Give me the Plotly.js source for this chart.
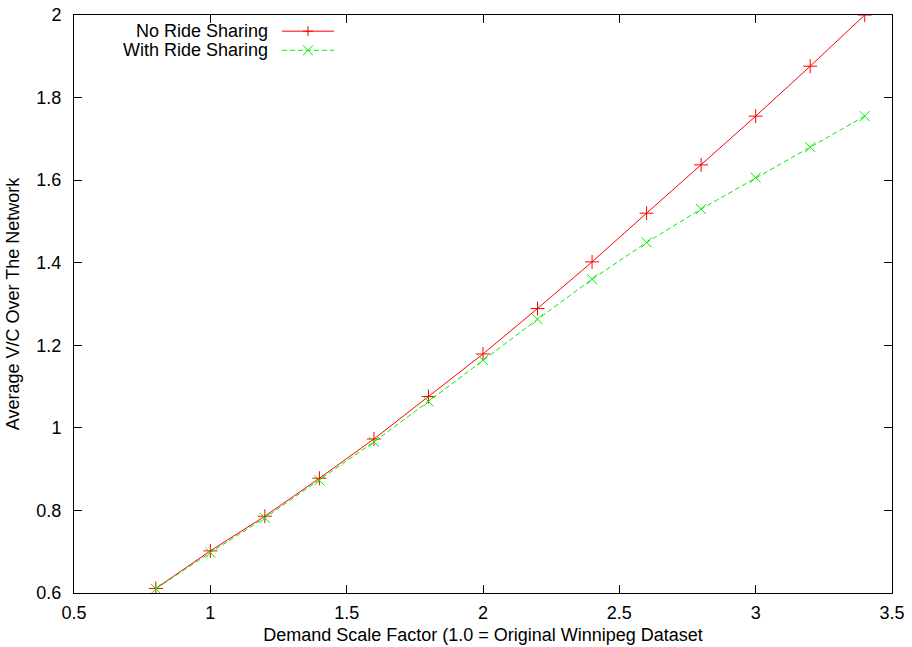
<!DOCTYPE html>
<html><head><meta charset="utf-8">
<script src="https://cdn.plot.ly/plotly-3.0.1.min.js"></script>
<style>html,body{margin:0;padding:0;background:#fff}#chart{width:912px;height:647px}</style>
</head><body><div id="chart"></div>
<script>
const scaleFactor = [0.8, 1.0, 1.2, 1.4, 1.6, 1.8, 2.0, 2.2, 2.4, 2.6, 2.8, 3.0, 3.2, 3.4];
const noRideSharing = [0.611, 0.702, 0.786, 0.878, 0.973, 1.076, 1.179, 1.289, 1.402, 1.520, 1.637, 1.755, 1.876, 2.000];
const withRideSharing = [0.610, 0.698, 0.782, 0.873, 0.966, 1.064, 1.164, 1.263, 1.360, 1.449, 1.530, 1.606, 1.680, 1.755];
const seriesNames = ["No Ride Sharing", "With Ride Sharing"];
const xTicks = [0.5, 1, 1.5, 2, 2.5, 3, 3.5];
const yTicks = [0.6, 0.8, 1, 1.2, 1.4, 1.6, 1.8, 2];

const font = "Liberation Sans, Arial, sans-serif";
const red = "#ff0000", green = "#00f000";

const traces = [
  {x: scaleFactor, y: noRideSharing, name: seriesNames[0], mode: "lines+markers",
   line: {color: red, width: 1}, marker: {symbol: "cross-thin-open", size: 10, color: red, line: {color: red, width: 1}}, showlegend: false},
  {x: scaleFactor, y: withRideSharing, name: seriesNames[1], mode: "lines+markers",
   line: {color: green, width: 1, dash: "5px,3px"}, marker: {symbol: "x-thin-open", size: 10, color: green, line: {color: green, width: 1}}, showlegend: false}
];

// legend drawn gnuplot-style: text right-aligned, sample on the right
const legRows = [0.972, 0.939];
const legColors = [red, green];
const shapes = [];
const annotations = [];
legRows.forEach((yy, i) => {
  annotations.push({xref: "paper", yref: "paper", x: 0.2396, y: yy, xanchor: "right", yanchor: "middle",
    text: seriesNames[i], showarrow: false, font: {family: font, size: 18, color: "#000"}});
  shapes.push({type: "line", xref: "paper", yref: "paper", x0: 0.2543, x1: 0.3178, y0: yy, y1: yy,
    line: {color: legColors[i], width: 1, dash: i === 1 ? "5px,3px" : "solid"}});
  const path = i === 0 ? "M-5,0L5,0M0,-5L0,5" : "M-5,-5L5,5M-5,5L5,-5";
  shapes.push({type: "path", xref: "paper", yref: "paper", xsizemode: "pixel", ysizemode: "pixel",
    xanchor: 0.286, yanchor: yy, path: path, line: {color: legColors[i], width: 1}});
});

const axisCommon = {
  showgrid: false, zeroline: false, showline: true, linecolor: "#000", linewidth: 1,
  mirror: "ticks", ticks: "inside", ticklen: 8, tickcolor: "#000", tickwidth: 1,
  tickfont: {family: font, size: 18, color: "#000"}
};

const layout = {
  width: 912, height: 647,
  margin: {l: 74, r: 20, t: 15, b: 54},
  paper_bgcolor: "#fff", plot_bgcolor: "#fff",
  showlegend: false,
  xaxis: Object.assign({}, axisCommon, {range: [0.5, 3.5], tickvals: xTicks, ticktext: xTicks.map(String), ticklabelstandoff: 3,
    title: {text: "Demand Scale Factor (1.0 = Original Winnipeg Dataset", font: {family: font, size: 18, color: "#000"}, standoff: 6}}),
  yaxis: Object.assign({}, axisCommon, {range: [0.6, 2.0], tickvals: yTicks, ticktext: yTicks.map(String), ticklabelstandoff: 8,
    title: {text: "Average V/C Over The Network", font: {family: font, size: 18, color: "#000"}, standoff: 12}}),
  shapes: shapes, annotations: annotations
};

Plotly.newPlot("chart", traces, layout, {displayModeBar: false, staticPlot: true});
</script></body></html>
